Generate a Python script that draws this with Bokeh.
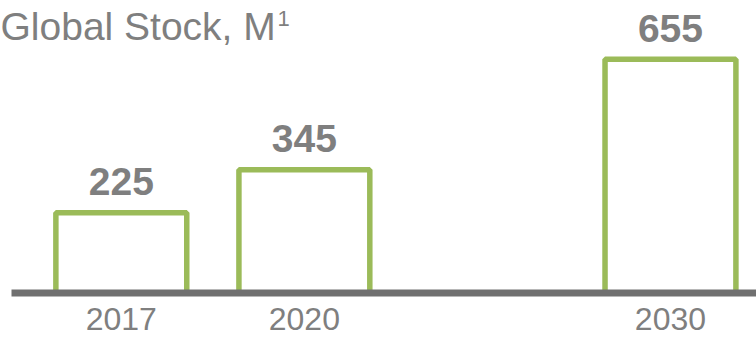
from bokeh.plotting import figure
from bokeh.models import ColumnDataSource, Label, Range1d, BoxAnnotation
from bokeh.core.properties import value
from bokeh.embed import file_html
from bokeh.resources import INLINE

# data
years = ["2017", "2020", "2030"]
slots = [0, 1, 3]          # category slots (gap before 2030)
stock = [225, 345, 655]    # global stock, M
value_labels = ["225", "345", "655"]
title_text = "Global Stock, M"
title_sup = "1"

FONT = "Liberation Sans"
GRAY = "#7f7f7f"
GREEN = "#9bbb59"

Y0, Y1 = -124.6, 819.3
PX_PER_UNIT = 337 / (Y1 - Y0)

src = ColumnDataSource(dict(x=slots, top=stock, year=years, lab=value_labels,
                            zero=[0] * len(slots)))

p = figure(width=756, height=337, output_backend="svg", toolbar_location=None,
           x_range=Range1d(-0.66, 3.47), y_range=Range1d(Y0, Y1),
           min_border_left=0, min_border_right=0, min_border_top=0, min_border_bottom=0,
           outline_line_color=None, background_fill_color="white", border_fill_color="white")
p.axis.visible = False
p.grid.visible = False

p.vbar(x="x", top="top", bottom=0, width=0.715, source=src,
       fill_color="white", line_color=GREEN, line_width=5.5)

# baseline, 7px thick, starting 11px from the left edge
half = 3.5 / PX_PER_UNIT
p.add_layout(BoxAnnotation(left=11, left_units="screen", bottom=-half, top=half,
                           fill_color="#707070", fill_alpha=1.0, line_color=None))

p.text(x="x", y="top", text="lab", source=src, text_align="center",
       text_baseline="middle", y_offset=-31, text_font=value(FONT),
       text_font_size="39px", text_font_style="bold", text_color=GRAY)

p.text(x="x", y="zero", text="year", source=src, text_align="center",
       text_baseline="middle", y_offset=26, text_font=value(FONT),
       text_font_size="32px", text_color=GRAY)

p.add_layout(Label(x=0, y=337 - 26, x_units="screen", y_units="screen",
                   text=title_text, text_font=FONT, text_font_size="39px",
                   text_color=GRAY, text_baseline="middle"))
p.add_layout(Label(x=277, y=337 - 18, x_units="screen", y_units="screen",
                   text=title_sup, text_font=FONT, text_font_size="22px",
                   text_color=GRAY, text_baseline="middle"))

open("out.html", "w").write(file_html(p, INLINE))
